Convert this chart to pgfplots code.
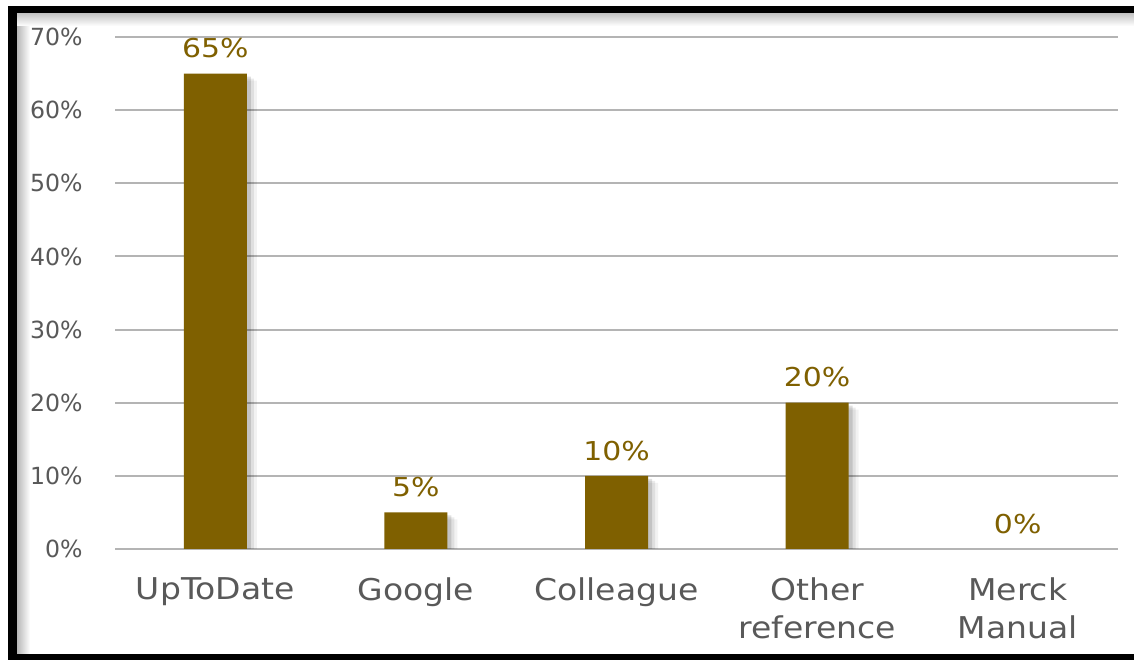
\documentclass[border=0pt]{standalone}
\usepackage{fontspec}
\setmainfont{DejaVu Sans}
\newfontfamily\widefont[FakeStretch=1.1]{DejaVu Sans}
\newfontfamily\widerfont[FakeStretch=1.15]{DejaVu Sans}
\usepackage{pgfplots}
\pgfplotsset{compat=1.18}
\definecolor{barc}{HTML}{7F6000}
\definecolor{lab}{HTML}{595959}
\definecolor{gridc}{HTML}{B4B4B4}
\begin{document}
\begin{tikzpicture}
\useasboundingbox (0,0) rectangle (567bp,330bp);
\fill[black] (4bp,0) rectangle (600bp,327bp);
\fill[white] (8.5bp,3bp) rectangle (600bp,323bp);
\shade[left color=black!28, right color=white] (8.5bp,3bp) rectangle (15bp,323bp);
\shade[top color=black!22, bottom color=white] (8.5bp,317bp) rectangle (600bp,323bp);
\begin{axis}[
  at={(57.5bp,55.5bp)}, anchor=south west,
  scale only axis, width=501.5bp, height=256bp,
  xmin=-0.5, xmax=4.5, ymin=0, ymax=70,
  /pgf/number format/assume math mode=true,
  ytick={0,10,...,70},
  yticklabel={\pgfmathprintnumber{\tick}\%},
  ymajorgrids, grid style={gridc, line width=1bp},
  axis line style={draw=none},
  major tick length=0pt,
  xtick={0,...,4},
  xticklabels={UpToDate, Google, Colleague, Other\\reference, Merck\\Manual},
  xticklabel style={align=center, font=\widefont\fontsize{15bp}{19bp}\selectfont, text=lab, anchor=north, inner sep=0pt, yshift=-14bp},
  yticklabel style={font=\fontsize{11.8bp}{14bp}\selectfont, text=lab, anchor=east, inner sep=0pt, xshift=-16bp},
  ybar, bar width=31.5bp,
  nodes near coords={\pgfmathprintnumber{\pgfplotspointmeta}\%},
  every node near coord/.append style={font=\widerfont\fontsize{13bp}{16bp}\selectfont, text=barc, inner sep=0pt, anchor=south, yshift=7.5bp},
]
\addplot[fill=barc, draw=none,
  preaction={fill=black, opacity=0.05, transform canvas={shift={(5bp,-3.5bp)}}},
  preaction={fill=black, opacity=0.08, transform canvas={shift={(3.5bp,-2.5bp)}}},
  preaction={fill=black, opacity=0.12, transform canvas={shift={(2bp,-1.5bp)}}}]
  coordinates {(0,65) (1,5) (2,10) (3,20) (4,0)};
\end{axis}
\end{tikzpicture}
\end{document}
